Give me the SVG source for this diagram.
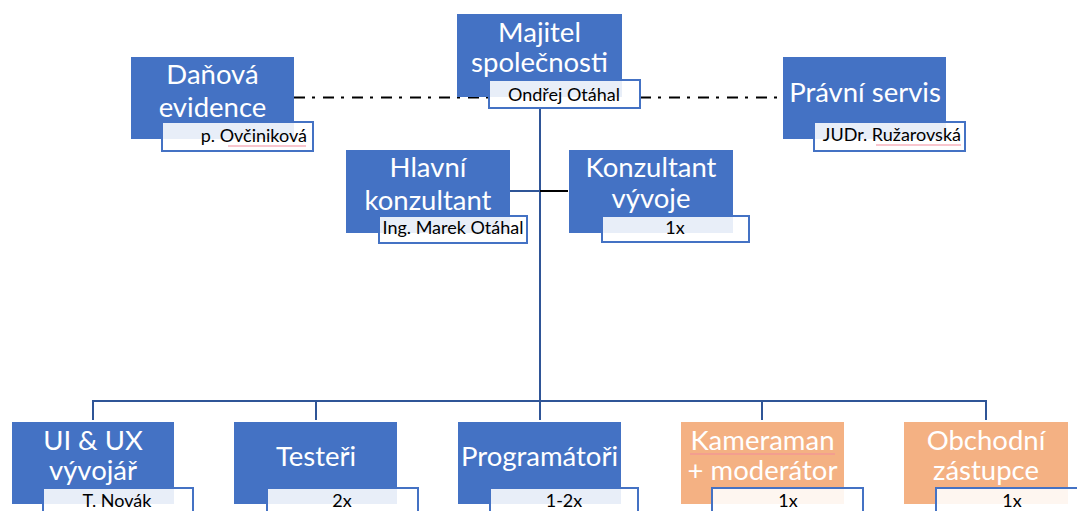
<svg xmlns="http://www.w3.org/2000/svg" width="1077" height="511" viewBox="0 0 1077 511">
<style>
.box{fill:#4472C4}
.obox{fill:#F4B183}
.sub{fill:#FFFFFF;fill-opacity:0.88;stroke:#4472C4;stroke-width:2}
.t{font-family:Lato,"Open Sans","Liberation Sans",sans-serif;font-size:27.5px;fill:#FFFFFF;text-anchor:middle}
.s{font-family:Lato,"Open Sans","Liberation Sans",sans-serif;font-size:18px;fill:#000000;text-anchor:middle}
.ln{fill:none;stroke:#2F5597;stroke-width:2}
.dd{fill:none;stroke:#000000;stroke-width:2;stroke-dasharray:11 7 3 8}
.sq{fill:none;stroke:#F28B9B;stroke-width:1}
</style>
<rect width="1077" height="511" fill="#FFFFFF"/>
<g id="connectors">
<path class="dd" d="M294 97.5 H489"/>
<path class="dd" d="M640 97.5 H783"/>
<path class="ln" d="M540 108 V401"/>
<path class="ln" d="M510 191 H540"/>
<path d="M540 191 H568" fill="none" stroke="#000000" stroke-width="2"/>
<path class="ln" d="M93 420 V401 H986 V420"/>
<path class="ln" d="M316 401 V420"/>
<path class="ln" d="M540 401 V420"/>
<path class="ln" d="M762 401 V420"/>
</g>
<g id="majitel">
<rect class="box" x="457" y="14" width="165" height="83"/>
<text class="t" x="539.5" y="42">Majitel</text>
<text class="t" x="539.5" y="72">společnosti</text>
<rect class="sub" x="489" y="80" width="151" height="28"/>
<text class="s" x="564" y="101">Ondřej Otáhal</text>
</g>
<g id="danova">
<rect class="box" x="131" y="57" width="163" height="82"/>
<text class="t" x="212.5" y="84">Daňová</text>
<text class="t" x="212.5" y="117">evidence</text>
<rect class="sub" x="162" y="122" width="151" height="29"/>
<text class="s" x="307" y="142" style="text-anchor:end">p. Ovčiniková</text>
<path class="sq" d="M228 146 H306"/>
</g>
<g id="pravni">
<rect class="box" x="783" y="57" width="163" height="82"/>
<text class="t" x="865" y="102">Právní servis</text>
<rect class="sub" x="814" y="122" width="151" height="29"/>
<text class="s" x="961" y="141" style="text-anchor:end">JUDr. Ružarovská</text>
<path class="sq" d="M876 145 H961"/>
</g>
<g id="hlavni">
<rect class="box" x="346" y="150" width="164" height="83"/>
<text class="t" x="428" y="177">Hlavní</text>
<text class="t" x="428" y="210">konzultant</text>
<rect class="sub" x="379" y="216" width="148" height="27"/>
<text class="s" x="453" y="234">Ing. Marek Otáhal</text>
</g>
<g id="konzultant">
<rect class="box" x="569" y="150" width="164" height="83"/>
<text class="t" x="651" y="177">Konzultant</text>
<text class="t" x="651" y="208">vývoje</text>
<rect class="sub" x="602" y="216" width="147" height="26"/>
<text class="s" x="675" y="234">1x</text>
</g>
<g id="uiux">
<rect class="box" x="12" y="422" width="162" height="82"/>
<text class="t" x="93" y="450">UI &amp; UX</text>
<text class="t" x="93" y="480">vývojář</text>
<rect class="sub" x="43" y="488" width="150" height="30"/>
<text class="s" x="117" y="507">T. Novák</text>
</g>
<g id="testeri">
<rect class="box" x="234" y="422" width="163" height="82"/>
<text class="t" x="316" y="466">Testeři</text>
<rect class="sub" x="267" y="488" width="151" height="30"/>
<text class="s" x="342" y="507">2x</text>
</g>
<g id="programatori">
<rect class="box" x="458" y="422" width="163" height="82"/>
<text class="t" x="539.5" y="466">Programátoři</text>
<rect class="sub" x="490" y="488" width="148" height="30"/>
<text class="s" x="564" y="507">1-2x</text>
</g>
<g id="kameraman">
<rect class="obox" x="681" y="422" width="163" height="82"/>
<text class="t" x="762.5" y="450">Kameraman</text>
<path class="sq" d="M690 454 H835"/>
<text class="t" x="762.5" y="480">+ moderátor</text>
<rect class="sub" x="712" y="488" width="151" height="30"/>
<text class="s" x="788" y="507">1x</text>
</g>
<g id="obchodni">
<rect class="obox" x="904" y="422" width="164" height="82"/>
<text class="t" x="986" y="450">Obchodní</text>
<text class="t" x="986" y="480">zástupce</text>
<rect class="sub" x="936" y="488" width="151" height="30"/>
<text class="s" x="1012" y="507">1x</text>
</g>
</svg>
